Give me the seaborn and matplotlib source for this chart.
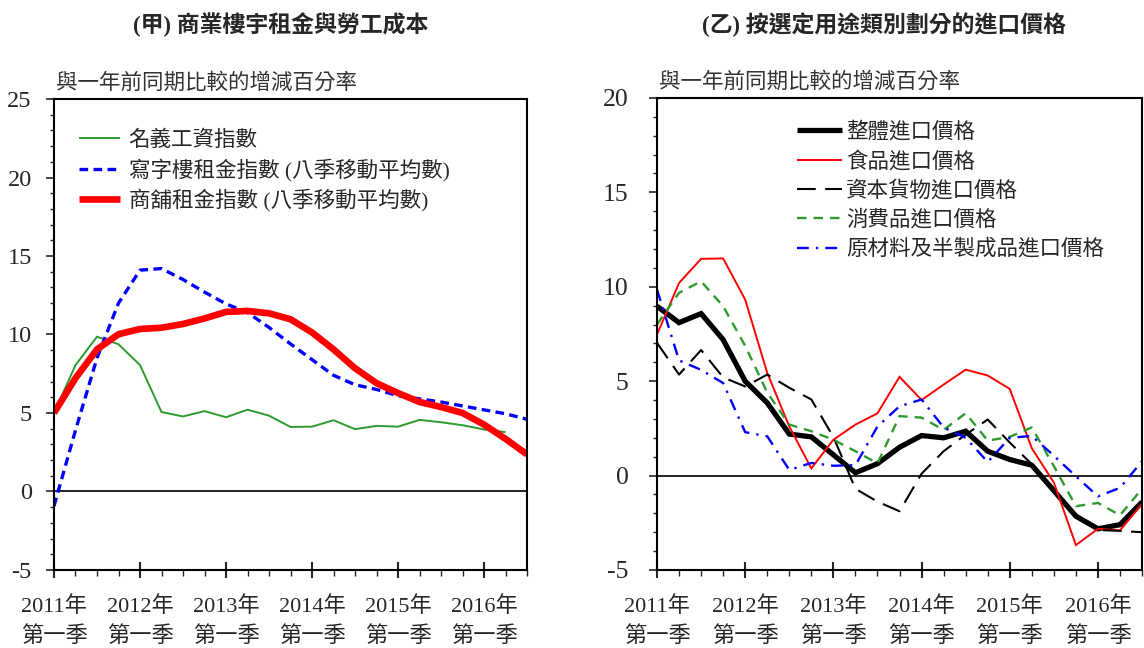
import numpy as np
import pandas as pd
import matplotlib
matplotlib.use("Agg")
import matplotlib.pyplot as plt
from matplotlib.ticker import MultipleLocator, FixedLocator
import seaborn as sns

# ---- data: year-on-year % change, quarterly from 2011 Q1 ----
year_labels = ["2011年\n第一季", "2012年\n第一季", "2013年\n第一季",
               "2014年\n第一季", "2015年\n第一季", "2016年\n第一季"]

# Panel (甲)
wage_index = [5.0, 8.05, 9.86, 9.38, 8.05, 5.06, 4.78, 5.12, 4.73, 5.21, 4.83,
              4.11, 4.13, 4.54, 3.97, 4.18, 4.13, 4.56, 4.41, 4.22, 3.95, 3.78]
office_rent = [-0.93, 3.9, 8.5, 12.0, 14.1, 14.2, 13.5, 12.7, 11.95, 11.4, 10.45,
               9.4, 8.4, 7.4, 6.8, 6.5, 6.1, 5.9, 5.7, 5.45, 5.2, 4.95, 4.6]
shop_rent = [5.0, 7.22, 9.05, 10.02, 10.35, 10.43, 10.67, 11.02, 11.44, 11.5, 11.35,
             10.97, 10.13, 9.05, 7.85, 6.9, 6.27, 5.7, 5.38, 5.0, 4.26, 3.35, 2.36]

# Panel (乙)
overall_import = [8.97, 8.1, 8.58, 7.2, 5.0, 3.85, 2.2, 2.05, 1.1, 0.15, 0.63, 1.5,
                  2.12, 2.0, 2.35, 1.29, 0.85, 0.55, -0.8, -2.15, -2.82, -2.6, -1.4]
food_import = [7.47, 10.2, 11.48, 11.5, 9.32, 5.44, 2.6, 0.38, 1.9, 2.7, 3.3, 5.23,
               4.0, 4.82, 5.61, 5.3, 4.59, 1.45, -0.37, -3.68, -2.82, -2.9, -1.5]
capital_import = [7.03, 5.35, 6.65, 5.2, 4.72, 5.35, 4.65, 4.03, 2.05, -0.7, -1.38,
                  -1.89, 0.1, 1.29, 2.17, 2.97, 1.75, 0.6, -0.7, -2.1, -2.88, -2.93, -3.0]
consumer_import = [8.0, 9.68, 10.29, 8.97, 6.87, 4.4, 2.7, 2.35, 1.9, 1.29, 0.65,
                   3.15, 3.07, 2.42, 3.3, 1.85, 2.05, 2.55, 0.5, -1.62, -1.45, -2.1, -0.7]
raw_import = [9.85, 6.1, 5.6, 4.9, 2.3, 2.08, 0.3, 0.67, 0.52, 0.55, 2.6, 3.67,
              4.03, 2.55, 2.0, 0.72, 2.0, 2.1, 1.05, -0.04, -1.1, -0.65, 0.76]

sns.set_style("ticks")
plt.rcParams["font.family"] = ["Liberation Serif", "Noto Sans CJK TC"]
plt.rcParams["axes.linewidth"] = 1.5
plt.rcParams["axes.edgecolor"] = "black"
plt.rcParams["axes.unicode_minus"] = False

FS = 15.5
fig = plt.figure(figsize=(11.44, 6.48), dpi=100)
ax1 = fig.add_axes([0.0472, 0.1204, 0.4135, 0.7268])
ax2 = fig.add_axes([0.5743, 0.1204, 0.4240, 0.7284])


def draw(ax, values, label, color, lw, dashes=None):
    df = pd.DataFrame({"q": np.arange(len(values)), "v": values})
    sns.lineplot(data=df, x="q", y="v", ax=ax, color=color, linewidth=lw,
                 label=label, solid_joinstyle="miter", solid_capstyle="butt",
                 dash_capstyle="butt")
    line = ax.get_lines()[-1]
    if dashes is not None:
        line.set_dashes(dashes)


# Panel (甲)
draw(ax1, wage_index, "名義工資指數", "#2e9a2e", 1.4)
draw(ax1, office_rent, "寫字樓租金指數 (八季移動平均數)", "#0000ff", 2.4, (2.6, 1.6))
draw(ax1, shop_rent, "商舖租金指數 (八季移動平均數)", "#ff0000", 4.8)

# Panel (乙)
draw(ax2, overall_import, "整體進口價格", "black", 3.8)
draw(ax2, food_import, "食品進口價格", "#ff0000", 1.4)
draw(ax2, capital_import, "資本貨物進口價格", "black", 1.5, (9, 4.5))
draw(ax2, consumer_import, "消費品進口價格", "#2e9a2e", 1.7, (4, 3))
draw(ax2, raw_import, "原材料及半製成品進口價格", "#0000ff", 1.7, (5, 3, 1, 3))

for ax, ylim, ypad, ysize in ((ax1, (-5, 25), 10, 17.5), (ax2, (-5, 20), 14.5, 18.5)):
    ax.set_xlim(0, 22)
    ax.set_ylim(*ylim)
    ax.axhline(0, color="black", linewidth=1.2, zorder=1)
    ax.set_xlabel("")
    ax.set_ylabel("")
    for s in ax.spines.values():
        s.set_visible(True)
        s.set_linewidth(1.5)
    ax.yaxis.set_major_locator(MultipleLocator(5))
    ax.yaxis.set_minor_locator(MultipleLocator(1))
    ax.xaxis.set_major_locator(FixedLocator([0, 4, 8, 12, 16, 20]))
    ax.xaxis.set_minor_locator(MultipleLocator(1))
    ax.set_xticklabels(year_labels)
    ax.tick_params(axis="y", which="major", direction="out", length=6, width=1.2,
                   labelsize=ysize, pad=ypad)
    ax.tick_params(axis="y", which="minor", direction="out", length=3, width=1.0)
    ax.tick_params(axis="x", which="major", direction="inout", length=12, width=1.5,
                   labelsize=16, pad=13)
    ax.tick_params(axis="x", which="minor", direction="out", length=4, width=1.0)
    for t in ax.get_xticklabels():
        t.set_linespacing(1.55)
    ax.text(0.005, 1.012, "與一年前同期比較的增減百分率", transform=ax.transAxes,
            ha="left", va="bottom", fontsize=FS, color="#333333")

leg1 = ax1.legend(loc="upper left", bbox_to_anchor=(0.035, 0.952), frameon=False,
                  fontsize=FS, handlelength=1.9, handletextpad=0.4,
                  labelspacing=0.35, borderaxespad=0)
leg2 = ax2.legend(loc="upper left", bbox_to_anchor=(0.27, 0.968), frameon=False,
                  fontsize=FS, handlelength=2.1, handletextpad=0.2,
                  labelspacing=0.4, borderaxespad=0)

fig.text(0.245, 0.962, "(甲) 商業樓宇租金與勞工成本", ha="center", va="center",
         fontsize=16.5, fontweight="bold")
fig.text(0.773, 0.962, "(乙) 按選定用途類別劃分的進口價格", ha="center", va="center",
         fontsize=16.5, fontweight="bold")

fig.savefig("out.png", dpi=100)
